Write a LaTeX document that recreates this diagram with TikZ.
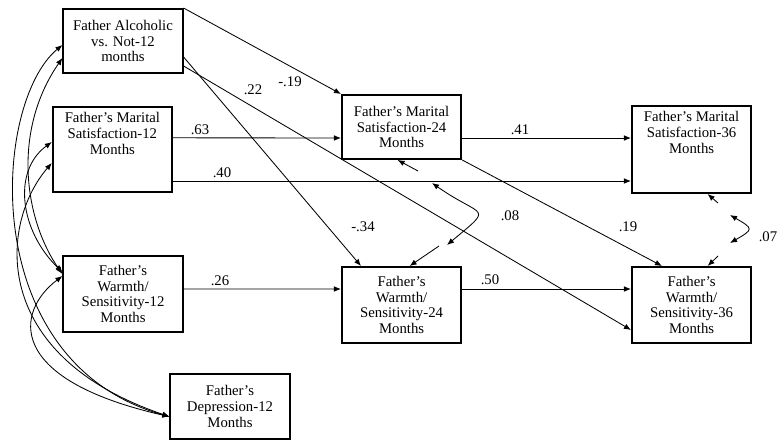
\documentclass[tikz,border=0pt]{standalone}
\usepackage{fontspec}
\setmainfont{Liberation Serif}
\usetikzlibrary{calc,arrows.meta}

\begin{document}
\begin{tikzpicture}[
  boite/.style={draw, line width=1.4pt, minimum width=2.98cm, align=center, inner sep=4pt, font=\fontsize{10.5}{11.3}\selectfont},
  fleche/.style={-{Latex[length=5pt,width=4pt]}, line width=0.6pt},
  corr/.style={{Latex[length=5pt,width=4pt]}-{Latex[length=5pt,width=4pt]}, line width=0.6pt},
  coef/.style={font=\fontsize{10.5}{12}\selectfont}
]

% Cadre
\useasboundingbox (0,0) rectangle (19.45,11.075);

% Variables a 12 mois
\node[boite, minimum height=1.6cm] (alc) at (3.075,10.05) {Father Alcoholic\\vs. Not-12\\months};
\node[boite, text depth=0.8cm] (m12) at (2.81,7.34) {Father's Marital\\Satisfaction-12\\Months};
\node[boite, minimum height=1.9cm] (w12) at (3.075,3.725) {Father's\\Warmth/\\Sensitivity-12\\Months};
\node[boite, minimum height=1.625cm] (d12) at (5.75,0.91) {Father's\\Depression-12\\Months};

% Variables a 24 et 36 mois
\node[boite, minimum height=1.6cm] (m24) at (10.04,7.9) {Father's Marital\\Satisfaction-24\\Months};
\node[boite, minimum height=1.9cm] (w24) at (10.04,3.45) {Father's\\Warmth/\\Sensitivity-24\\Months};
\node[boite, text depth=0.85cm] (m36) at (17.29,7.34) {Father's Marital\\Satisfaction-36\\Months};
\node[boite, minimum height=1.9cm] (w36) at (17.29,3.45) {Father's\\Warmth/\\Sensitivity-36\\Months};

% Effets directs
\draw[fleche] (alc.north east) -- (m24.north west);
\draw[fleche] ($(alc.south east)+(0,0.425)$) -- ($(w24.north west)+(0.5,0)$);
\draw[fleche] ($(alc.south east)+(0,0.2)$) -- ($(w36.south west)+(0,0.35)$);
\draw[fleche] ($(m12.east)+(0,0.29)$) -- ($(m24.west)+(0,-0.275)$);
\draw[fleche] ($(m12.east)+(0,-0.79)$) -- ($(m36.west)+(0,-0.79)$);
\draw[fleche] ($(m24.east)+(0,-0.275)$) -- ($(m36.west)+(0,0.285)$);
\draw[fleche] (m24.south east) -- ($(w36.north west)+(0.775,0)$);
\draw[fleche] ($(w12.east)+(0,0.125)$) -- ($(w24.west)+(0,0.4)$);
\draw[fleche] ($(w24.east)+(0,0.4)$) -- ($(w36.west)+(0,0.4)$);

% Coefficients
\node[coef] (k19) at (7.25,9.025) {-.19};
\node[coef] (k22) at (6.325,8.825) {.22};
\node[coef] (k63) at (5.0,7.825) {.63};
\node[coef] (k40) at (5.55,6.75) {.40};
\node[coef] (k41) at (13.0,7.825) {.41};
\node[coef] (k34) at (9.075,5.4) {-.34};
\node[coef] (k08) at (12.75,5.675) {.08};
\node[coef] (k19b) at (15.7,5.4) {.19};
\node[coef] (k26) at (5.5,4.05) {.26};
\node[coef] (k50) at (12.25,4.075) {.50};
\node[coef] (k07) at (19.2,5.15) {.07};

% Residus a 24 mois
\coordinate (em24) at (10.45,6.8);
\coordinate (ew24) at (10.975,4.925);
\coordinate (r24a) at (10.8,6.5);
\coordinate (r24b) at (11.175,4.95);
\draw[fleche] (em24) -- ($(m24.south)+(-0.1,0)$);
\draw[fleche] (ew24) -- ($(w24.north)+(0.2,0)$);
\draw[corr] (r24a) to[out=-35,in=40,looseness=2.5] (r24b);

% Residus a 36 mois
\coordinate (em36) at (17.95,6.0);
\coordinate (ew36) at (17.95,4.675);
\coordinate (r36a) at (18.25,5.7);
\coordinate (r36b) at (18.25,5.0);
\draw[fleche] (em36) -- ($(m36.south)+(0.4,0)$);
\draw[fleche] (ew36) -- ($(w36.north)+(0.4,0)$);
\draw[corr] (r36a) to[out=-30,in=30,looseness=2.5] (r36b);

% Correlations a 12 mois
\draw[corr] ($(alc.west)+(0,-0.1)$) .. controls (-0.2,8.5) and (-0.6,2.0) .. ($(d12.west)+(0,-0.25)$);
\draw[corr] ($(m12.west)+(0,-0.34)$) .. controls (0.0,5.5) and (-0.3,2.2) .. ($(d12.west)+(0,-0.25)$);
\draw[corr] ($(w12.west)+(0,0.45)$) .. controls (0.4,3.3) and (0.1,1.6) .. ($(d12.west)+(0,-0.25)$);
\draw[corr] ($(alc.west)+(0,-0.425)$) .. controls (0.3,7.8) and (0.6,5.6) .. ($(w12.west)+(0,0.5)$);
\draw[corr] ($(m12.west)+(0,0.185)$) .. controls (0.3,6.8) and (0.5,5.3) .. ($(w12.west)+(0,0.55)$);

\end{tikzpicture}
\end{document}
